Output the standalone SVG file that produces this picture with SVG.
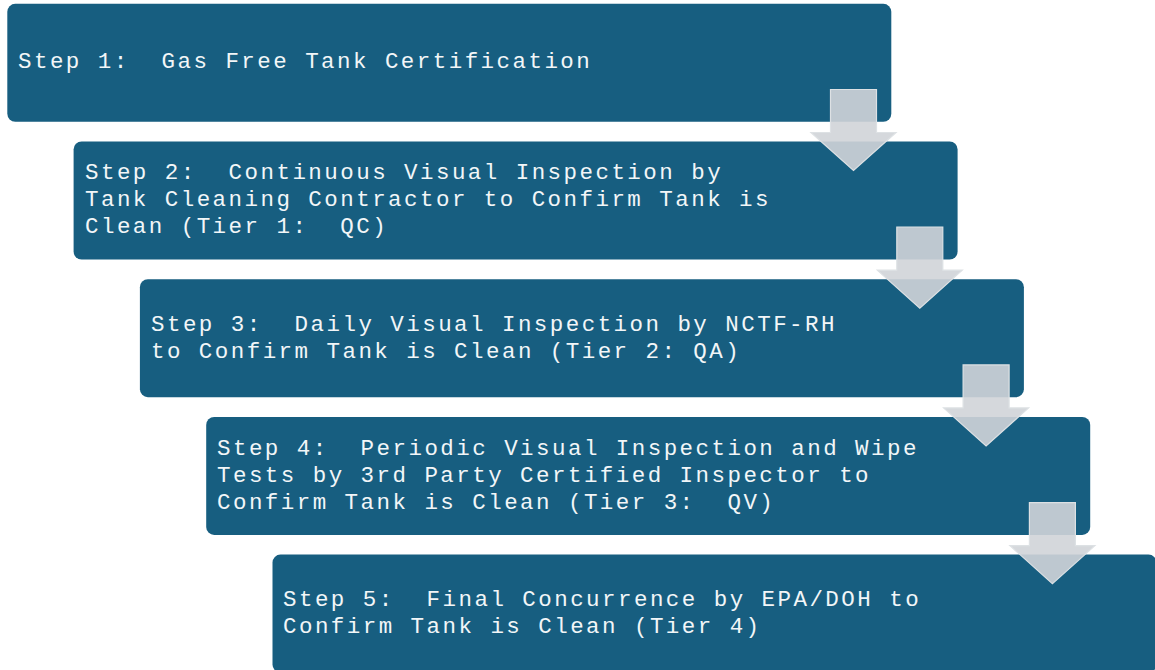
<svg xmlns="http://www.w3.org/2000/svg" width="1155" height="670" viewBox="0 0 1155 670">
  <style>
    .box { fill: #175e80; }
    .lbl { fill: #f2f6f8; font-family: "Liberation Mono", "Courier New", monospace; font-size: 22.5px; letter-spacing: 2.45px; white-space: pre; }
    .arr { fill: rgb(208,212,216); fill-opacity: 0.9; stroke: #dde1e4; stroke-width: 1.2; }
  </style>
  <rect width="1155" height="670" fill="#ffffff"/>
  <g id="step1">
    <rect class="box" x="7.3" y="3.8" width="884" height="118" rx="8"/>
    <text class="lbl" x="18" y="68" xml:space="preserve">Step 1:  Gas Free Tank Certification</text>
  </g>
  <g id="step2">
    <rect class="box" x="73.6" y="141.5" width="884" height="118" rx="8"/>
    <text class="lbl" x="85" y="179" xml:space="preserve">Step 2:  Continuous Visual Inspection by</text>
    <text class="lbl" x="85" y="206" xml:space="preserve">Tank Cleaning Contractor to Confirm Tank is</text>
    <text class="lbl" x="85" y="233" xml:space="preserve">Clean (Tier 1:  QC)</text>
  </g>
  <g id="step3">
    <rect class="box" x="139.9" y="279.2" width="884" height="118" rx="8"/>
    <text class="lbl" x="151" y="331" xml:space="preserve">Step 3:  Daily Visual Inspection by NCTF-RH</text>
    <text class="lbl" x="151" y="358" xml:space="preserve">to Confirm Tank is Clean (Tier 2: QA)</text>
  </g>
  <g id="step4">
    <rect class="box" x="206.2" y="416.9" width="884" height="118" rx="8"/>
    <text class="lbl" x="217" y="455" xml:space="preserve">Step 4:  Periodic Visual Inspection and Wipe</text>
    <text class="lbl" x="217" y="482" xml:space="preserve">Tests by 3rd Party Certified Inspector to</text>
    <text class="lbl" x="217" y="509" xml:space="preserve">Confirm Tank is Clean (Tier 3:  QV)</text>
  </g>
  <g id="step5">
    <rect class="box" x="272.5" y="554.6" width="884" height="118" rx="8"/>
    <text class="lbl" x="283" y="606" xml:space="preserve">Step 5:  Final Concurrence by EPA/DOH to</text>
    <text class="lbl" x="283" y="633" xml:space="preserve">Confirm Tank is Clean (Tier 4)</text>
  </g>
  <g id="connectors">
    <path class="arr" d="M830.5,89.5 H876.5 V132.5 H896 L853.5,170.5 L811,132.5 H830.5 Z"/>
    <path class="arr" d="M896.8,227.2 H942.8 V270.2 H962.3 L919.8,308.2 L877.3,270.2 H896.8 Z"/>
    <path class="arr" d="M963.1,364.9 H1009.1 V407.9 H1028.6 L986.1,445.9 L943.6,407.9 H963.1 Z"/>
    <path class="arr" d="M1029.4,502.6 H1075.4 V545.6 H1094.9 L1052.4,583.6 L1009.9,545.6 H1029.4 Z"/>
  </g>
</svg>
